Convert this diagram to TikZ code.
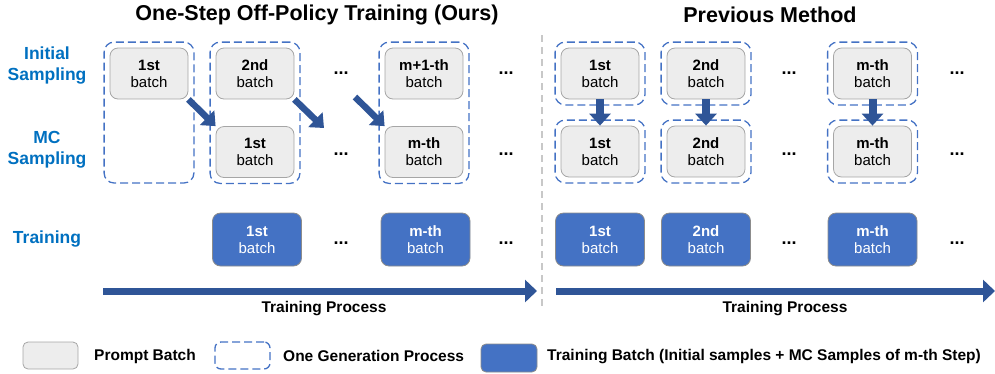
\documentclass[tikz,border=0pt]{standalone}
\usepackage{fontspec}
\setmainfont{Liberation Sans}
\usetikzlibrary{arrows.meta,positioning,fit}
\definecolor{rowblue}{HTML}{0070C0}
\definecolor{genblue}{HTML}{4472C4}
\definecolor{flowblue}{HTML}{2F5597}
\definecolor{batchgray}{HTML}{EDEDED}
\definecolor{batchline}{HTML}{A6A6A6}
\definecolor{sepgray}{HTML}{C8C8C8}
\tikzset{
  prompt/.style={draw=batchline, fill=batchgray, rounded corners=8pt, line width=.8pt, minimum width=78pt, minimum height=51pt, align=center, inner sep=0pt, font=\fontsize{15}{17}\selectfont},
  trainb/.style={prompt, draw=gray!90, fill=genblue, text=white, minimum width=89pt, minimum height=53pt},
  genframe/.style={draw=genblue, rounded corners=10pt, line width=1.3pt, dash pattern=on 8pt off 4pt, inner sep=5.5pt},
  rowlbl/.style={font=\bfseries\fontsize{17.5}{21}\selectfont, text=rowblue, align=center},
  ttl/.style={font=\bfseries\fontsize{21.5}{24}\selectfont},
  dotsn/.style={font=\bfseries\fontsize{18}{20}\selectfont, inner sep=0pt},
  lgd/.style={font=\bfseries\fontsize{15.5}{18}\selectfont, anchor=west, inner sep=0pt},
  procl/.style={font=\bfseries\fontsize{15.5}{18}\selectfont},
  offarr/.style={-{Triangle[width=20pt,length=12pt]}, draw=flowblue, line width=6.5pt},
  handoff/.style={-{Triangle[width=21pt,length=12pt]}, draw=flowblue, line width=8pt},
  timeline/.style={-{Triangle[width=22pt,length=12pt]}, draw=flowblue, line width=7pt},
}
\begin{document}
\begin{tikzpicture}[x=1pt,y=-1pt]
  \useasboundingbox (0,0) rectangle (995,373);
  % titles and row labels
  \node[ttl] (ttlA) at (317,15) {One-Step Off-Policy Training (Ours)};
  \node[ttl] (ttlB) at (770,15) {Previous Method};
  \node[rowlbl] (rowI) at (47,66) {Initial\\Sampling};
  \node[rowlbl] (rowM) at (47,150) {MC\\Sampling};
  \node[rowlbl] (rowT) at (47,239) {Training};

  % one-step off-policy side
  \node[prompt] (i1) at (149,73.5) {\textbf{1st}\\batch};
  \node[prompt] (i2) at (255,73.5) {\textbf{2nd}\\batch};
  \node[prompt] (im) at (424,73.5) {\textbf{m+1-th}\\batch};
  \node[prompt] (c1) at (255,152) {\textbf{1st}\\batch};
  \node[prompt] (cm) at (424,152) {\textbf{m-th}\\batch};
  \coordinate (c1foot) at (149,177.5);
  \node[genframe, fit=(i1)(c1foot)] (g1) {};
  \node[genframe, fit=(i2)(c1)] (g2) {};
  \node[genframe, fit=(im)(cm)] (g3) {};
  \coordinate (gapOut) at (324,128);
  \coordinate (gapIn) at (355,97);
  \draw[offarr] (i1.south east) -- (c1.north west);
  \draw[offarr] (i2.south east) -- (gapOut);
  \draw[offarr] (gapIn) -- (cm.north west);
  \node[trainb] (t1) at (257,239.5) {\textbf{1st}\\batch};
  \node[trainb] (tm) at (425.5,239.5) {\textbf{m-th}\\batch};
  \foreach \x in {341,506}{
    \node[dotsn] (dI\x) at (\x,73) {...};
    \node[dotsn] (dM\x) at (\x,154) {...};
    \node[dotsn] (dT\x) at (\x,243) {...};
  }
  \coordinate (runA) at (103,291);
  \coordinate (endA) at (537,291);
  \draw[timeline] (runA) -- (endA);
  \node[procl] (procA) at (324,309) {Training Process};

  % separator
  \draw[sepgray, line width=2pt, dash pattern=on 7pt off 5pt] (542,35) -- (542,307);

  % previous method side
  \foreach \n/\x/\lbl in {1/600/1st, 2/706/2nd, 3/872.5/m-th}{
    \node[prompt] (p\n) at (\x,73.5) {\textbf{\lbl}\\batch};
    \node[prompt] (q\n) at (\x,151.5) {\textbf{\lbl}\\batch};
    \node[genframe, fit=(p\n)] (pf\n) {};
    \node[genframe, fit=(q\n)] (qf\n) {};
    \draw[handoff] (p\n.south) -- (q\n.north);
    \node[trainb] (r\n) at (\x,239.5) {\textbf{\lbl}\\batch};
  }
  \foreach \x in {789,957}{
    \node[dotsn] (eI\x) at (\x,73) {...};
    \node[dotsn] (eM\x) at (\x,154) {...};
    \node[dotsn] (eT\x) at (\x,243) {...};
  }
  \coordinate (runB) at (556,291);
  \coordinate (endB) at (995,291);
  \draw[timeline] (runB) -- (endB);
  \node[procl] (procB) at (785,309) {Training Process};

  % legend
  \node[prompt, minimum width=55pt, minimum height=27pt, rounded corners=5pt] (kP) at (50.5,355.5) {};
  \node[lgd] (kPt) at (94,356) {Prompt Batch};
  \node[genframe, inner sep=0pt, minimum width=55pt, minimum height=27pt, rounded corners=6pt] (kG) at (242.5,355.5) {};
  \node[lgd] (kGt) at (283,356) {One Generation Process};
  \node[trainb, minimum width=56pt, minimum height=28pt, rounded corners=5pt] (kT) at (509,358) {};
  \node[lgd] (kTt) at (547,357) {Training Batch (Initial samples + MC Samples of m-th Step)};
\end{tikzpicture}
\end{document}
